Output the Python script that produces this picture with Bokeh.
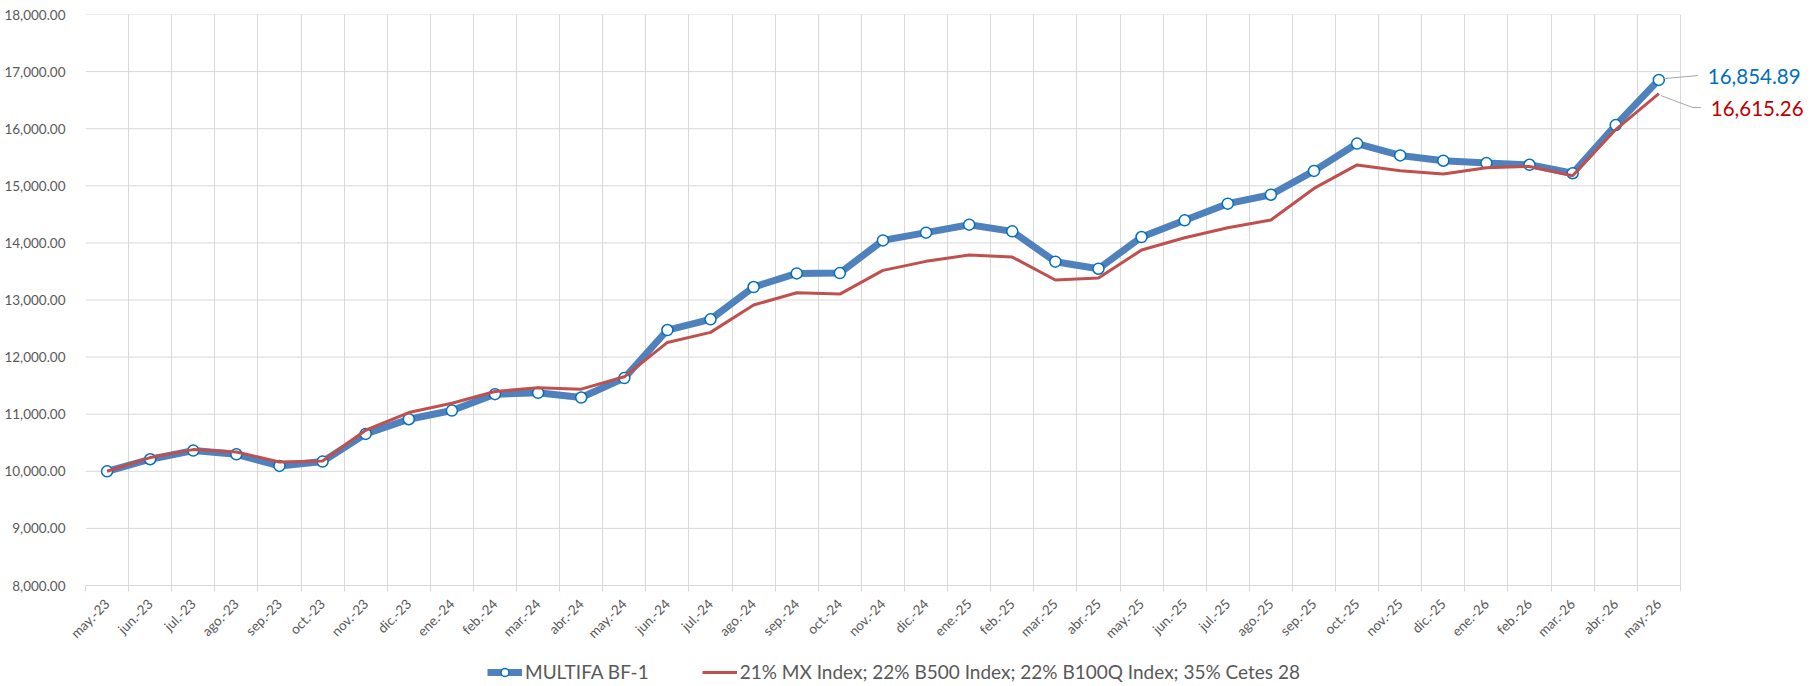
from bokeh.plotting import figure
from bokeh.models import (Range1d, FixedTicker, NumeralTickFormatter, Legend, LegendItem,
                          ColumnDataSource)
from bokeh.layouts import column
from bokeh.core.properties import value
from bokeh.embed import file_html
from bokeh.resources import INLINE
import math

months = ["may.-23", "jun.-23", "jul.-23", "ago.-23", "sep.-23", "oct.-23", "nov.-23", "dic.-23",
          "ene.-24", "feb.-24", "mar.-24", "abr.-24", "may.-24", "jun.-24", "jul.-24", "ago.-24",
          "sep.-24", "oct.-24", "nov.-24", "dic.-24", "ene.-25", "feb.-25", "mar.-25", "abr.-25",
          "may.-25", "jun.-25", "jul.-25", "ago.-25", "sep.-25", "oct.-25", "nov.-25", "dic.-25",
          "ene.-26", "feb.-26", "mar.-26", "abr.-26", "may.-26"]

fund = [10000, 10211, 10363, 10298, 10094, 10170, 10655, 10912,
        11064, 11351, 11374, 11292, 11632, 12474, 12661, 13227,
        13466, 13472, 14044, 14179, 14319, 14202, 13671, 13548,
        14103, 14395, 14687, 14844, 15261, 15740, 15532, 15439,
        15398, 15368, 15220, 16064, 16854.89]

bench = [10000, 10240, 10380, 10339, 10164, 10181, 10719, 11029,
         11193, 11398, 11462, 11439, 11655, 12257, 12433, 12912,
         13128, 13104, 13519, 13677, 13788, 13752, 13350, 13385,
         13875, 14091, 14266, 14400, 14954, 15366, 15264, 15205,
         15316, 15339, 15175, 15985, 16615.26]

fund_name = "MULTIFA BF-1"
bench_name = "21% MX Index; 22% B500 Index; 22% B100Q Index; 35% Cetes 28"
y_ticks = list(range(8000, 18001, 1000))

FONT = "Lato"
GREY_TXT = "#595959"
GRID = "#D9D9D9"
BLUE_LINE = "#4F81BD"
BLUE_MARK = "#0070C0"
RED_LINE = "#C0504D"
RED_TXT = "#C00000"

n = len(months)
last = n - 1
xs = list(range(n))
src = ColumnDataSource(dict(x=xs, fund=fund, bench=bench))

W = 1820
H_MAIN, H_LEG = 652, 34
LEFT, TOP, BOTTOM = 85, 14, H_MAIN - 585
CAT_PX = 43.105                      # pixel width of one category
x_end = -0.5 + (W - LEFT) / CAT_PX   # room on the right for the end labels

p = figure(width=W, height=H_MAIN,
           x_range=Range1d(-0.5, x_end), y_range=Range1d(y_ticks[0], y_ticks[-1]),
           output_backend="svg", toolbar_location=None,
           min_border_left=LEFT, min_border_right=0, min_border_top=TOP, min_border_bottom=BOTTOM)
p.outline_line_color = None
p.background_fill_color = "white"

# x axis: labels at category centres, small ticks at category boundaries
bounds = [i - 0.5 for i in range(n + 1)]
p.xaxis.bounds = (-0.5, n - 0.5)
p.xaxis.ticker = FixedTicker(ticks=xs, minor_ticks=bounds)
p.xaxis.major_label_overrides = {i: m for i, m in enumerate(months)}
p.xaxis.major_label_orientation = math.pi / 4
p.xaxis.major_tick_line_color = None
p.xaxis.minor_tick_line_color = GRID
p.xaxis.minor_tick_in = 0
p.xaxis.minor_tick_out = 6
p.xaxis.axis_line_color = GRID
p.xaxis.major_label_text_font = FONT
p.xaxis.major_label_text_font_size = "13.5px"
p.xaxis.major_label_text_color = GREY_TXT
p.xaxis.major_label_standoff = 10

p.yaxis.ticker = FixedTicker(ticks=y_ticks)
p.yaxis.formatter = NumeralTickFormatter(format="0,0.00")
p.yaxis.axis_line_color = None
p.yaxis.major_tick_line_color = None
p.yaxis.minor_tick_line_color = None
p.yaxis.major_label_text_font = FONT
p.yaxis.major_label_text_font_size = "13.5px"
p.yaxis.major_label_text_color = GREY_TXT
p.yaxis.major_label_standoff = 14

p.xgrid.ticker = FixedTicker(ticks=bounds)
p.xgrid.grid_line_color = GRID
p.ygrid.visible = False
# horizontal gridlines limited to the category span
p.segment(x0=[-0.5] * len(y_ticks), x1=[n - 0.5] * len(y_ticks), y0=y_ticks, y1=y_ticks,
          line_color=GRID, line_width=1)

bl = p.line("x", "fund", source=src, line_color=BLUE_LINE, line_width=7)
bm = p.scatter("x", "fund", source=src, marker="circle", size=11,
               fill_color="white", line_color=BLUE_MARK, line_width=1.5)
rl = p.line("x", "bench", source=src, line_color=RED_LINE, line_width=3)

# end-value labels with leader lines
px_x = 1.0 / CAT_PX    # category units per pixel
px_y = (y_ticks[-1] - y_ticks[0]) / (H_MAIN - TOP - BOTTOM)   # value units per pixel
p.text(x=[last], y=[fund[-1]], text=[f"{fund[-1]:,.2f}"], x_offset=49, y_offset=-3,
       text_font=value(FONT), text_font_size="20.5px", text_color=BLUE_MARK,
       text_baseline="middle", text_align="left")
p.text(x=[last], y=[bench[-1]], text=[f"{bench[-1]:,.2f}"], x_offset=52, y_offset=15,
       text_font=value(FONT), text_font_size="20.5px", text_color=RED_TXT,
       text_baseline="middle", text_align="left")
p.line(x=[last + 5 * px_x, last + 39 * px_x],
       y=[fund[-1] + 1.3 * px_y, fund[-1] + 4.3 * px_y], line_color="#A6A6A6", line_width=1)
p.line(x=[last + 2 * px_x, last + 34 * px_x, last + 42 * px_x],
       y=[bench[-1] - 2 * px_y, bench[-1] - 14 * px_y, bench[-1] - 14 * px_y],
       line_color="#A6A6A6", line_width=1)

# legend strip below the chart (its renderers reuse the data, kept outside the strip's range)
pl = figure(width=W, height=H_LEG, x_range=Range1d(0, 1), y_range=Range1d(0, 1),
            output_backend="svg", toolbar_location=None,
            x_axis_location=None, y_axis_location=None, min_border=0)
pl.outline_line_color = None
pl.grid.visible = False
lb = pl.line("x", "fund", source=src, line_color=BLUE_LINE, line_width=7)
lm = pl.scatter("x", "fund", source=src, marker="circle", size=11, fill_color="white",
                line_color=BLUE_MARK, line_width=1.5)
lr = pl.line("x", "bench", source=src, line_color=RED_LINE, line_width=3)
legend = Legend(items=[LegendItem(label=fund_name, renderers=[lb, lm]),
                       LegendItem(label=bench_name, renderers=[lr])],
                orientation="horizontal", location=(402, 3),
                label_text_font=FONT, label_text_font_size="19px", label_text_color=GREY_TXT,
                glyph_width=35, glyph_height=20, spacing=53, padding=0, margin=0,
                label_standoff=3, border_line_color=None, background_fill_alpha=0)
pl.add_layout(legend)

layout = column(p, pl, spacing=0)
open("out.html", "w").write(file_html(layout, INLINE))
